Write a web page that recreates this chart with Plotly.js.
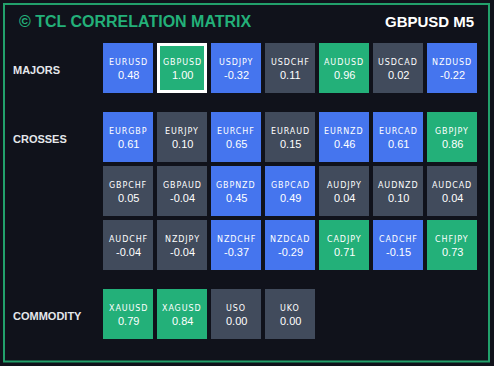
<!DOCTYPE html>
<html><head><meta charset="utf-8">
<script src="https://cdn.plot.ly/plotly-3.0.1.min.js"></script>
<style>html,body{margin:0;padding:0;background:#10121b;overflow:hidden}
text.annotation-text[style*="font-size: 8px"]{letter-spacing:0.9px}</style>
</head><body><div id="chart" style="width:494px;height:366px"></div>
<script>
// ---- data ----
const groups = ["MAJORS", "CROSSES", "COMMODITY"];
const majorsSymbols = ["EURUSD","GBPUSD","USDJPY","USDCHF","AUDUSD","USDCAD","NZDUSD"];
const majorsValues  = [0.48, 1.00, -0.32, 0.11, 0.96, 0.02, -0.22];
const majorsLevel   = ["mid","strong","mid","weak","strong","weak","mid"];
const crossesSymbols = ["EURGBP","EURJPY","EURCHF","EURAUD","EURNZD","EURCAD","GBPJPY",
                        "GBPCHF","GBPAUD","GBPNZD","GBPCAD","AUDJPY","AUDNZD","AUDCAD",
                        "AUDCHF","NZDJPY","NZDCHF","NZDCAD","CADJPY","CADCHF","CHFJPY"];
const crossesValues  = [0.61, 0.10, 0.65, 0.15, 0.46, 0.61, 0.86,
                        0.05, -0.04, 0.45, 0.49, 0.04, 0.10, 0.04,
                        -0.04, -0.04, -0.37, -0.29, 0.71, -0.15, 0.73];
const crossesLevel   = ["mid","weak","mid","weak","mid","mid","strong",
                        "weak","weak","mid","mid","weak","weak","weak",
                        "weak","weak","mid","mid","strong","mid","strong"];
const commoditySymbols = ["XAUUSD","XAGUSD","USO","UKO"];
const commodityValues  = [0.79, 0.84, 0.00, 0.00];
const commodityLevel   = ["strong","strong","weak","weak"];
const baseSymbol = "GBPUSD";
const timeframe = "M5";

// ---- styling ----
const levelColor = {strong: "#23b079", mid: "#4575ee", weak: "#414b5c"};
const COLS = 7, GROUP_GAP = 0.278;

const xs = [], ys = [], cols = [], sizes = [], lw = [], names = [], vals = [];
const groupY = [];
let rowBase = 0;
[[majorsSymbols, majorsValues, majorsLevel],
 [crossesSymbols, crossesValues, crossesLevel],
 [commoditySymbols, commodityValues, commodityLevel]].forEach(([s, v, l], g) => {
  groupY.push(rowBase + g * GROUP_GAP);
  s.forEach((sym, i) => {
    xs.push(i % COLS);
    ys.push(rowBase + Math.floor(i / COLS) + g * GROUP_GAP);
    cols.push(levelColor[l[i]]);
    const hi = sym === baseSymbol;
    sizes.push(hi ? 47 : 50);
    lw.push(hi ? 3 : 0);
    names.push(sym);
    vals.push(v[i].toFixed(2));
  });
  rowBase += Math.ceil(s.length / COLS);
});

const cells = {
  type: "scatter", mode: "markers", x: xs, y: ys, hoverinfo: "skip",
  marker: {symbol: "square", size: sizes, color: cols, opacity: 1,
           line: {color: "#ffffff", width: lw}}
};

const annotations = [];
xs.forEach((x, i) => {
  annotations.push({x: x, y: ys[i], xref: "x", yref: "y", showarrow: false, yshift: 6,
    text: names[i], font: {family: "DejaVu Sans", size: 8, color: "#ffffff"}});
  annotations.push({x: x, y: ys[i], xref: "x", yref: "y", showarrow: false, yshift: -7,
    text: vals[i], font: {family: "Liberation Sans, Arial", size: 11, color: "#ffffff"}});
});
groups.forEach((g, i) => {
  annotations.push({x: -2.17, y: groupY[i], xref: "x", yref: "y", xanchor: "left", yshift: -2,
    showarrow: false, text: "<b>" + g + "</b>",
    font: {family: "Liberation Sans, Arial", size: 11, color: "#e5e7eb"}});
});
annotations.push({x: 17 / 494, y: 1 - 22 / 366, xref: "paper", yref: "paper", xanchor: "left",
  yanchor: "middle", showarrow: false, text: "<b>© TCL CORRELATION MATRIX</b>",
  font: {family: "Liberation Sans, Arial", size: 16, color: "#23b079"}});
annotations.push({x: 476 / 494, y: 1 - 22 / 366, xref: "paper", yref: "paper", xanchor: "right",
  yanchor: "middle", showarrow: false, text: "<b>" + baseSymbol + " " + timeframe + "</b>",
  font: {family: "Liberation Sans, Arial", size: 15, color: "#ffffff"}});

const layout = {
  width: 494, height: 366, margin: {l: 0, r: 0, t: 0, b: 0},
  paper_bgcolor: "#10121b", plot_bgcolor: "#10121b", showlegend: false,
  xaxis: {range: [-128 / 54, (494 - 128) / 54], visible: false, fixedrange: true},
  yaxis: {range: [(366 - 68) / 54, -68 / 54], visible: false, fixedrange: true},
  annotations: annotations,
  shapes: [{type: "rect", xref: "paper", yref: "paper",
    x0: 4 / 494, x1: 489 / 494, y0: 1 - 4 / 366, y1: 1 - 361.5 / 366,
    line: {color: "#22a06b", width: 2}}]
};
Plotly.newPlot("chart", [cells], layout, {displayModeBar: false, staticPlot: true});
</script></body></html>
